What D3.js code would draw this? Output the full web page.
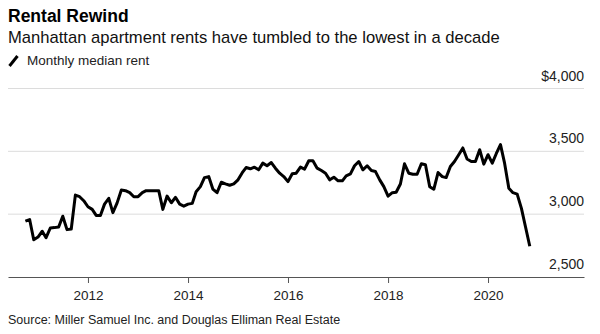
<!DOCTYPE html>
<html>
<head>
<meta charset="utf-8">
<script src="https://cdn.jsdelivr.net/npm/d3@7"></script>
<style>
  body { margin: 0; background: #fff; }
  svg { display: block; font-family: "Liberation Sans", Arial, sans-serif; }
</style>
</head>
<body>
<div id="chart"></div>
<script>
// Data: Manhattan monthly median rent, Oct 2010 - Nov 2020
const startMonth = "2010-10"
const rents = [
  2944, 2957, 2797, 2818, 2864, 2813, 2890, 2893, 2898, 2984, 2877, 2882,
  3152, 3139, 3107, 3059, 3038, 2990, 2990, 3080, 3126, 3012, 3090, 3192,
  3187, 3171, 3139, 3139, 3171, 3187, 3187, 3187, 3187, 3038, 3144, 3091,
  3134, 3080, 3064, 3080, 3086, 3179, 3219, 3291, 3299, 3200, 3171, 3254,
  3241, 3230, 3241, 3273, 3330, 3371, 3361, 3374, 3353, 3406, 3385, 3411,
  3366, 3326, 3299, 3259, 3321, 3326, 3374, 3358, 3425, 3425, 3366, 3347,
  3326, 3273, 3294, 3265, 3265, 3305, 3321, 3385, 3419, 3353, 3385, 3347,
  3339, 3273, 3219, 3144, 3171, 3174, 3240, 3401, 3326, 3318, 3318, 3401,
  3393, 3219, 3198, 3331, 3299, 3291, 3379, 3419, 3473, 3527, 3439, 3419,
  3419, 3513, 3398, 3473, 3406, 3481, 3553, 3406, 3206, 3171, 3160, 3046,
  2898, 2745
]
const yTicks = [2500, 3000, 3500, 4000]
const xTickYears = [2012, 2014, 2016, 2018, 2020]

const title = "Rental Rewind"
const subtitle = "Manhattan apartment rents have tumbled to the lowest in a decade"
const legendLabel = "Monthly median rent"
const source = "Source: Miller Samuel Inc. and Douglas Elliman Real Estate"

// Dimensions
const width = 600
const height = 334
const plot = { left: 8, right: 584, top: 88.5, bottom: 277 }

const parseMonth = d3.timeParse("%Y-%m")
const start = parseMonth(startMonth)
const dataset = rents.map((v, i) => ({ date: d3.timeMonth.offset(start, i), value: v }))

const svg = d3.select('#chart')
  .append('svg')
  .attr('width', width)
  .attr('height', height)

// Scales
const xScale = d3.scaleTime()
  .domain([new Date(2010, 4, 27), new Date(2021, 11, 2)])
  .range([plot.left, plot.right])

const yScale = d3.scaleLinear()
  .domain([2500, 4000])
  .range([plot.bottom, plot.top])

// Header
svg.append('text')
  .attr('x', 8).attr('y', 22)
  .attr('font-size', 17.5).attr('font-weight', 'bold').attr('fill', '#000')
  .text(title)

svg.append('text')
  .attr('x', 8).attr('y', 43)
  .attr('font-size', 16.6).attr('fill', '#111')
  .text(subtitle)

const legend = svg.append('g').attr('transform', 'translate(8, 60)')
legend.append('line')
  .attr('x1', 1.5).attr('y1', 6).attr('x2', 9.5).attr('y2', -4)
  .attr('stroke', '#000').attr('stroke-width', 3)
legend.append('text')
  .attr('x', 19).attr('y', 4.5)
  .attr('font-size', 13.5).attr('fill', '#222')
  .text(legendLabel)

// Grid + y labels
const grid = svg.append('g')
grid.selectAll('line')
  .data(yTicks.filter(d => d !== 2500))
  .join('line')
  .attr('x1', plot.left).attr('x2', plot.right)
  .attr('y1', d => yScale(d)).attr('y2', d => yScale(d))
  .attr('stroke', '#dcdcdc').attr('stroke-width', 1)

const fmt = d3.format(',')
grid.selectAll('text')
  .data(yTicks)
  .join('text')
  .attr('x', plot.right)
  .attr('y', d => yScale(d) - 8)
  .attr('text-anchor', 'end')
  .attr('font-size', 14).attr('fill', '#222')
  .text(d => d === 4000 ? '$' + fmt(d) : fmt(d))

// X axis
const xAxis = d3.axisBottom(xScale)
  .tickValues(xTickYears.map(y => new Date(y, 0, 1)))
  .tickFormat(d3.timeFormat('%Y'))
  .tickSizeInner(6)
  .tickSizeOuter(0)
  .tickPadding(7)

const xg = svg.append('g')
  .attr('transform', `translate(0, ${plot.bottom})`)
  .call(xAxis)
xg.select('.domain').attr('stroke', '#555')
xg.selectAll('.tick line').attr('stroke', '#555')
xg.selectAll('.tick text')
  .attr('font-size', 13.5).attr('fill', '#222')
  .attr('font-family', '"Liberation Sans", Arial, sans-serif')

// Line
const lineGenerator = d3.line()
  .x(d => xScale(d.date))
  .y(d => yScale(d.value))

svg.append('path')
  .datum(dataset)
  .attr('d', lineGenerator)
  .attr('fill', 'none')
  .attr('stroke', '#000')
  .attr('stroke-width', 3)
  .attr('stroke-linejoin', 'round')

// Source
svg.append('text')
  .attr('x', 8).attr('y', 324)
  .attr('font-size', 12.5).attr('fill', '#222')
  .text(source)
</script>
</body>
</html>
